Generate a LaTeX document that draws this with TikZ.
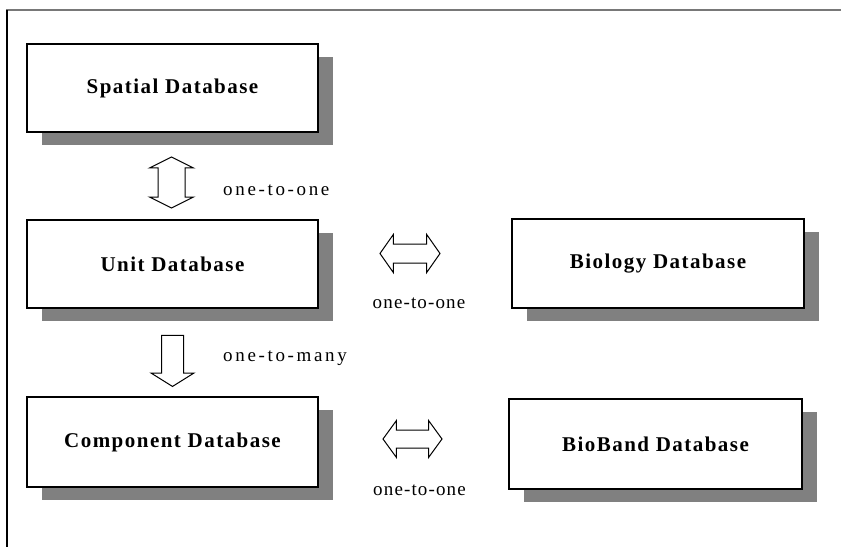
\documentclass[tikz,border=0pt]{standalone}
\usepackage{fontspec}
\setmainfont{Liberation Serif}
\newfontfamily\boxfont[LetterSpace=7]{Liberation Serif}
\newfontfamily\relfont[LetterSpace=6]{Liberation Serif}
\newfontfamily\widerelfont[LetterSpace=14]{Liberation Serif}
\usetikzlibrary{shapes.arrows,shadows}
\definecolor{shadowgray}{RGB}{128,128,128}
\definecolor{framegray}{RGB}{120,120,120}

\tikzset{
  dbbox/.style={draw=black, line width=1.5pt, fill=white, inner sep=0pt,
    minimum width=291pt, minimum height=88pt,
    font=\boxfont\bfseries\fontsize{21}{25}\selectfont,
    drop shadow={shadow xshift=15pt, shadow yshift=-13pt, fill=shadowgray, opacity=1}},
  twoway/.style={double arrow, draw=black, line width=1pt, fill=white, inner xsep=0pt},
  oneway/.style={single arrow, draw=black, line width=1pt, fill=white, inner xsep=0pt},
  rellabel/.style={inner sep=0pt, font=\relfont\fontsize{19}{22}\selectfont},
  widerellabel/.style={inner sep=0pt, anchor=west, font=\widerelfont\fontsize{19}{22}\selectfont},
}

\begin{document}
\begin{tikzpicture}[x=1pt, y=-1pt]
        \useasboundingbox (0,0) rectangle (841,547);
        % frame
        \draw[framegray, line width=1.2pt] (6,10) -- (841,10);
        \draw[black, line width=1.3pt] (7,10) -- (7,547);
        % databases
        \node[dbbox] (spatial) at (172.5,88) {Spatial Database};
        \node[dbbox] (unit) at (172.5,264) {Unit Database};
        \node[dbbox, minimum height=90pt] (component) at (172.5,442) {Component Database};
        \node[dbbox, minimum width=292pt, minimum height=89pt] (biology) at (658,263.5) {Biology Database};
        \node[dbbox, minimum width=293pt, minimum height=90pt] (bioband) at (655.5,444) {BioBand Database};
        % relations
        \node[twoway, rotate=90, minimum height=51pt, minimum width=43pt, inner ysep=13pt,
          double arrow head extend=8.5pt, double arrow tip angle=127] (spatialunit) at (171.5,182.5) {};
        \node[oneway, rotate=-90, minimum height=51pt, minimum width=42pt, inner ysep=10.5pt,
          single arrow head extend=10.5pt, single arrow tip angle=116] (unitcomponent) at (172.5,357.5) {};
        \node[twoway, minimum height=60pt, minimum width=37pt, inner ysep=9pt,
          double arrow head extend=9.5pt, double arrow tip angle=110] (unitbiology) at (410,253.5) {};
        \node[twoway, minimum height=59pt, minimum width=36pt, inner ysep=8.5pt,
          double arrow head extend=9.5pt, double arrow tip angle=108] (componentbioband) at (412.5,439) {};
        \node[widerellabel] (spatialunitlabel) at (223,190) {one-to-one};
        \node[widerellabel] (unitcomponentlabel) at (223,358) {one-to-many};
        \node[rellabel] (unitbiologylabel) at (419,303) {one-to-one};
        \node[rellabel] (componentbiobandlabel) at (419.5,490) {one-to-one};
\end{tikzpicture}
\end{document}
